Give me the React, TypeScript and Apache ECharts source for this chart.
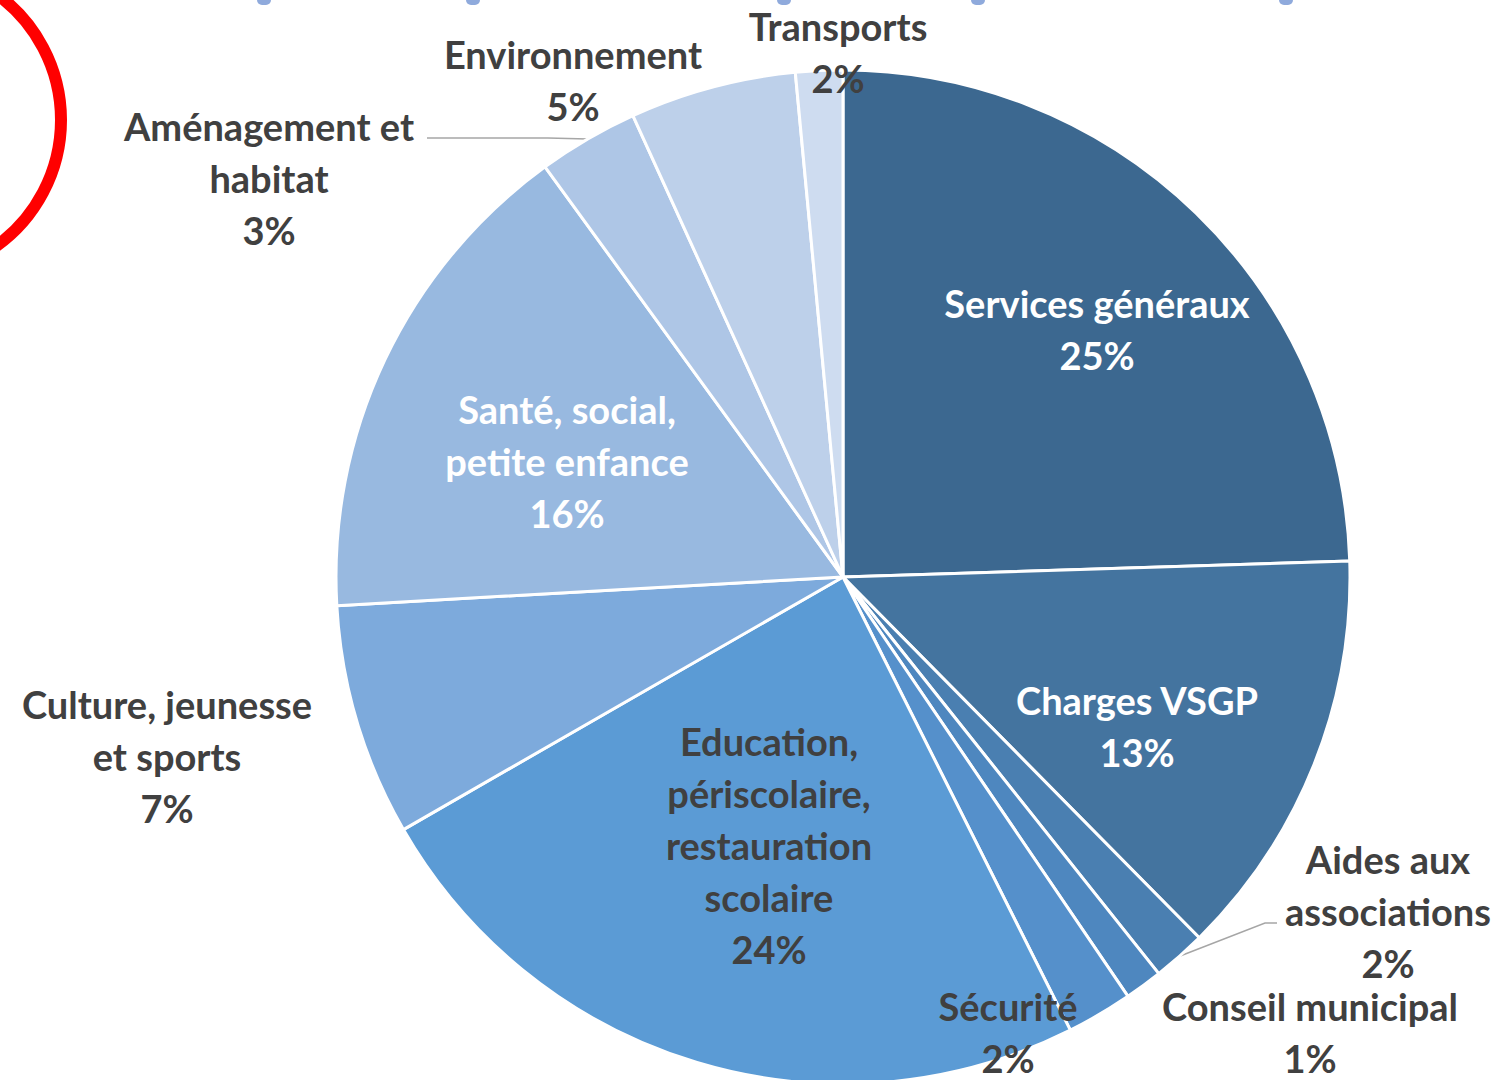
import React, { useEffect, useRef } from "react";
import * as echarts from "echarts";

const categories = [
  "Services généraux",
  "Charges VSGP",
  "Aides aux\nassociations",
  "Conseil municipal",
  "Sécurité",
  "Education,\npériscolaire,\nrestauration\nscolaire",
  "Culture, jeunesse\net sports",
  "Santé, social,\npetite enfance",
  "Aménagement et\nhabitat",
  "Environnement",
  "Transports",
];

const shares = [24.5, 13.1, 1.7, 1.2, 2.1, 24.1, 7.4, 15.9, 3.2, 5.3, 1.5];

const sliceColors = [
  "#3C6890",
  "#44749F",
  "#4A7FB1",
  "#4E87BF",
  "#5590CB",
  "#5B9BD5",
  "#7DAADC",
  "#98B9E0",
  "#AEC6E6",
  "#BDD0EA",
  "#CEDCF0",
];

const insideIdx = [0, 1, 5, 7];
const labelColorIdxWhite = [0, 1, 7];

const labelCenters: [number, number][] = [
  [1097, 329],
  [1137, 726],
  [1388, 911],
  [1310, 1032],
  [1008, 1032],
  [769, 845],
  [167, 756],
  [567, 461],
  [269, 178],
  [573, 80],
  [838, 52],
];

const topMarksX = [264, 473, 784, 978, 1286];

export default function App() {
  const ref = useRef<HTMLDivElement>(null);
  useEffect(() => {
    if (!ref.current) return;
    const chart = echarts.init(ref.current, undefined, { renderer: "svg" });
    const data = categories.map((name, i) => ({
      name,
      value: shares[i],
      itemStyle: { color: sliceColors[i] },
      label: {
        position: insideIdx.includes(i) ? "inside" : "outside",
        color: labelColorIdxWhite.includes(i) ? "#FFFFFF" : "#404040",
      },
      labelLine: { show: i === 2 || i === 8 },
    }));
    chart.setOption({
      animation: false,
      backgroundColor: "#FFFFFF",
      graphic: [
        {
          type: "circle",
          shape: { cx: -94, cy: 120, r: 155 },
          style: { fill: "none", stroke: "#FF0000", lineWidth: 12 },
          z: 10,
        },
        ...topMarksX.map((x) => ({
          type: "rect",
          shape: { x: x - 7, y: -10, width: 14, height: 15, r: 5 },
          style: { fill: "#8FAADC" },
        })),
      ],
      series: [
        {
          type: "pie",
          center: [843, 577],
          radius: [0, 507],
          startAngle: 90,
          clockwise: true,
          avoidLabelOverlap: false,
          percentPrecision: 1,
          itemStyle: { borderColor: "#FFFFFF", borderWidth: 3 },
          emphasis: { disabled: true },
          label: {
            show: true,
            rotate: 0,
            overflow: "none",
            fontFamily: "Lato",
            fontWeight: "bold",
            fontSize: 38,
            lineHeight: 52,
            align: "center",
            formatter: (p: any) => `${p.name}\n${Math.round(p.percent)}%`,
          },
          labelLine: {
            lineStyle: { color: "#A6A6A6", width: 1.5 },
          },
          labelLayout: (p: any) => {
            const c = labelCenters[p.dataIndex];
            const res: any = {
              x: c[0],
              y: c[1],
              align: "center",
              verticalAlign: "middle",
            };
            const anchor =
              p.labelLinePoints && p.labelLinePoints[0]
                ? p.labelLinePoints[0]
                : null;
            if (p.dataIndex === 8 && anchor) {
              res.labelLinePoints = [[427, 138], [548, 138], anchor];
            }
            if (p.dataIndex === 2 && anchor) {
              res.labelLinePoints = [[1277, 923], [1265, 923], anchor];
            }
            return res;
          },
          data,
        },
      ],
    });
    return () => chart.dispose();
  }, []);
  return (
    <div
      ref={ref}
      style={{ position: "absolute", left: 0, top: 0, width: 1501, height: 1080 }}
    />
  );
}
